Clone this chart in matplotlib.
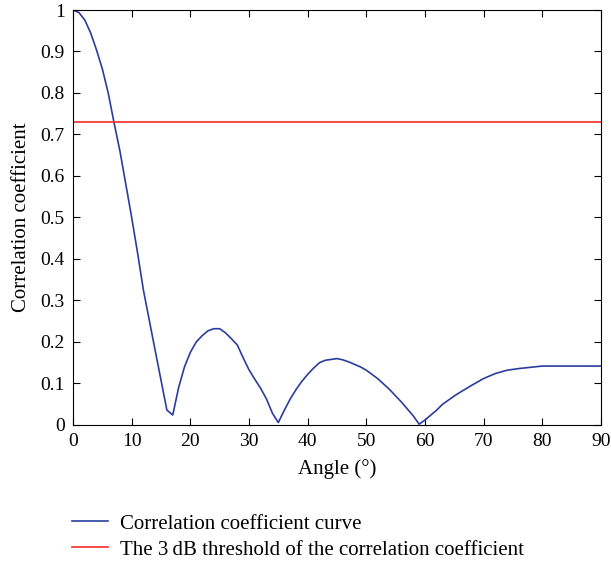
import matplotlib
matplotlib.use("Agg")
import matplotlib.pyplot as plt

plt.rcParams['font.family'] = ['Liberation Serif', 'DejaVu Serif']

angle = [0, 1, 2, 3, 4, 5, 6, 7, 8, 9, 10, 11, 12, 14, 16, 17, 18, 19, 20, 21,
         22, 23, 24, 25, 26, 27, 28, 29, 30, 31, 32, 33, 34, 35, 36, 37, 38, 39,
         40, 41, 42, 43, 44, 45, 46, 47, 48, 49, 50, 52, 54, 56, 58, 59, 60, 61,
         62, 63, 64, 65, 66, 68, 70, 72, 74, 76, 78, 80, 82, 84, 86, 88, 90]
corr = [1.0, 0.994, 0.976, 0.945, 0.904, 0.858, 0.80, 0.728, 0.66, 0.58, 0.50,
        0.415, 0.325, 0.18, 0.036, 0.024, 0.09, 0.14, 0.175, 0.20,
        0.215, 0.227, 0.232, 0.232, 0.222, 0.208, 0.193, 0.162, 0.133, 0.11, 0.088,
        0.062, 0.028, 0.006, 0.035, 0.062, 0.085, 0.105,
        0.122, 0.137, 0.15, 0.156, 0.158, 0.16, 0.157, 0.152, 0.146, 0.14, 0.132,
        0.111, 0.085, 0.055, 0.022, 0.002, 0.012, 0.024,
        0.036, 0.05, 0.06, 0.07, 0.079, 0.096, 0.112, 0.124, 0.132, 0.136, 0.139,
        0.142, 0.142, 0.142, 0.142, 0.142, 0.142]
threshold = 0.73

xticks = [0, 10, 20, 30, 40, 50, 60, 70, 80, 90]
yticks = [0, 0.1, 0.2, 0.3, 0.4, 0.5, 0.6, 0.7, 0.8, 0.9, 1]
ytick_labels = ['0', '0.1', '0.2', '0.3', '0.4', '0.5', '0.6', '0.7', '0.8', '0.9', '1']

fig = plt.figure(figsize=(6.11, 5.65), dpi=100)
ax = fig.add_axes([0.1195, 0.2478, 0.8641, 0.7345])

l1, = ax.plot(angle, corr, color='#2a3d9e', lw=1.2)
l2 = ax.axhline(threshold, color='#f52a2a', lw=1.2)

ax.set_xlim(0, 90)
ax.set_ylim(0, 1)
ax.set_xticks(xticks)
ax.set_yticks(yticks)
ax.set_yticklabels(ytick_labels)
ax.tick_params(direction='in', top=True, right=True, labelsize=14, length=5,
               width=0.8, pad=6)
for s in ax.spines.values():
    s.set_linewidth(0.8)

ax.set_xlabel('Angle (°)', fontsize=15, labelpad=6)
ax.set_ylabel('Correlation coefficient', fontsize=15, labelpad=7)

fig.legend([l1, l2], ['Correlation coefficient curve',
                      'The 3\u2009dB threshold of the correlation coefficient'],
           loc='upper left', bbox_to_anchor=(0.118, 0.09), frameon=False,
           fontsize=15, handlelength=1.7, handletextpad=0.6, labelspacing=0.3,
           borderaxespad=0, borderpad=0)

fig.savefig('out.png', dpi=100)
